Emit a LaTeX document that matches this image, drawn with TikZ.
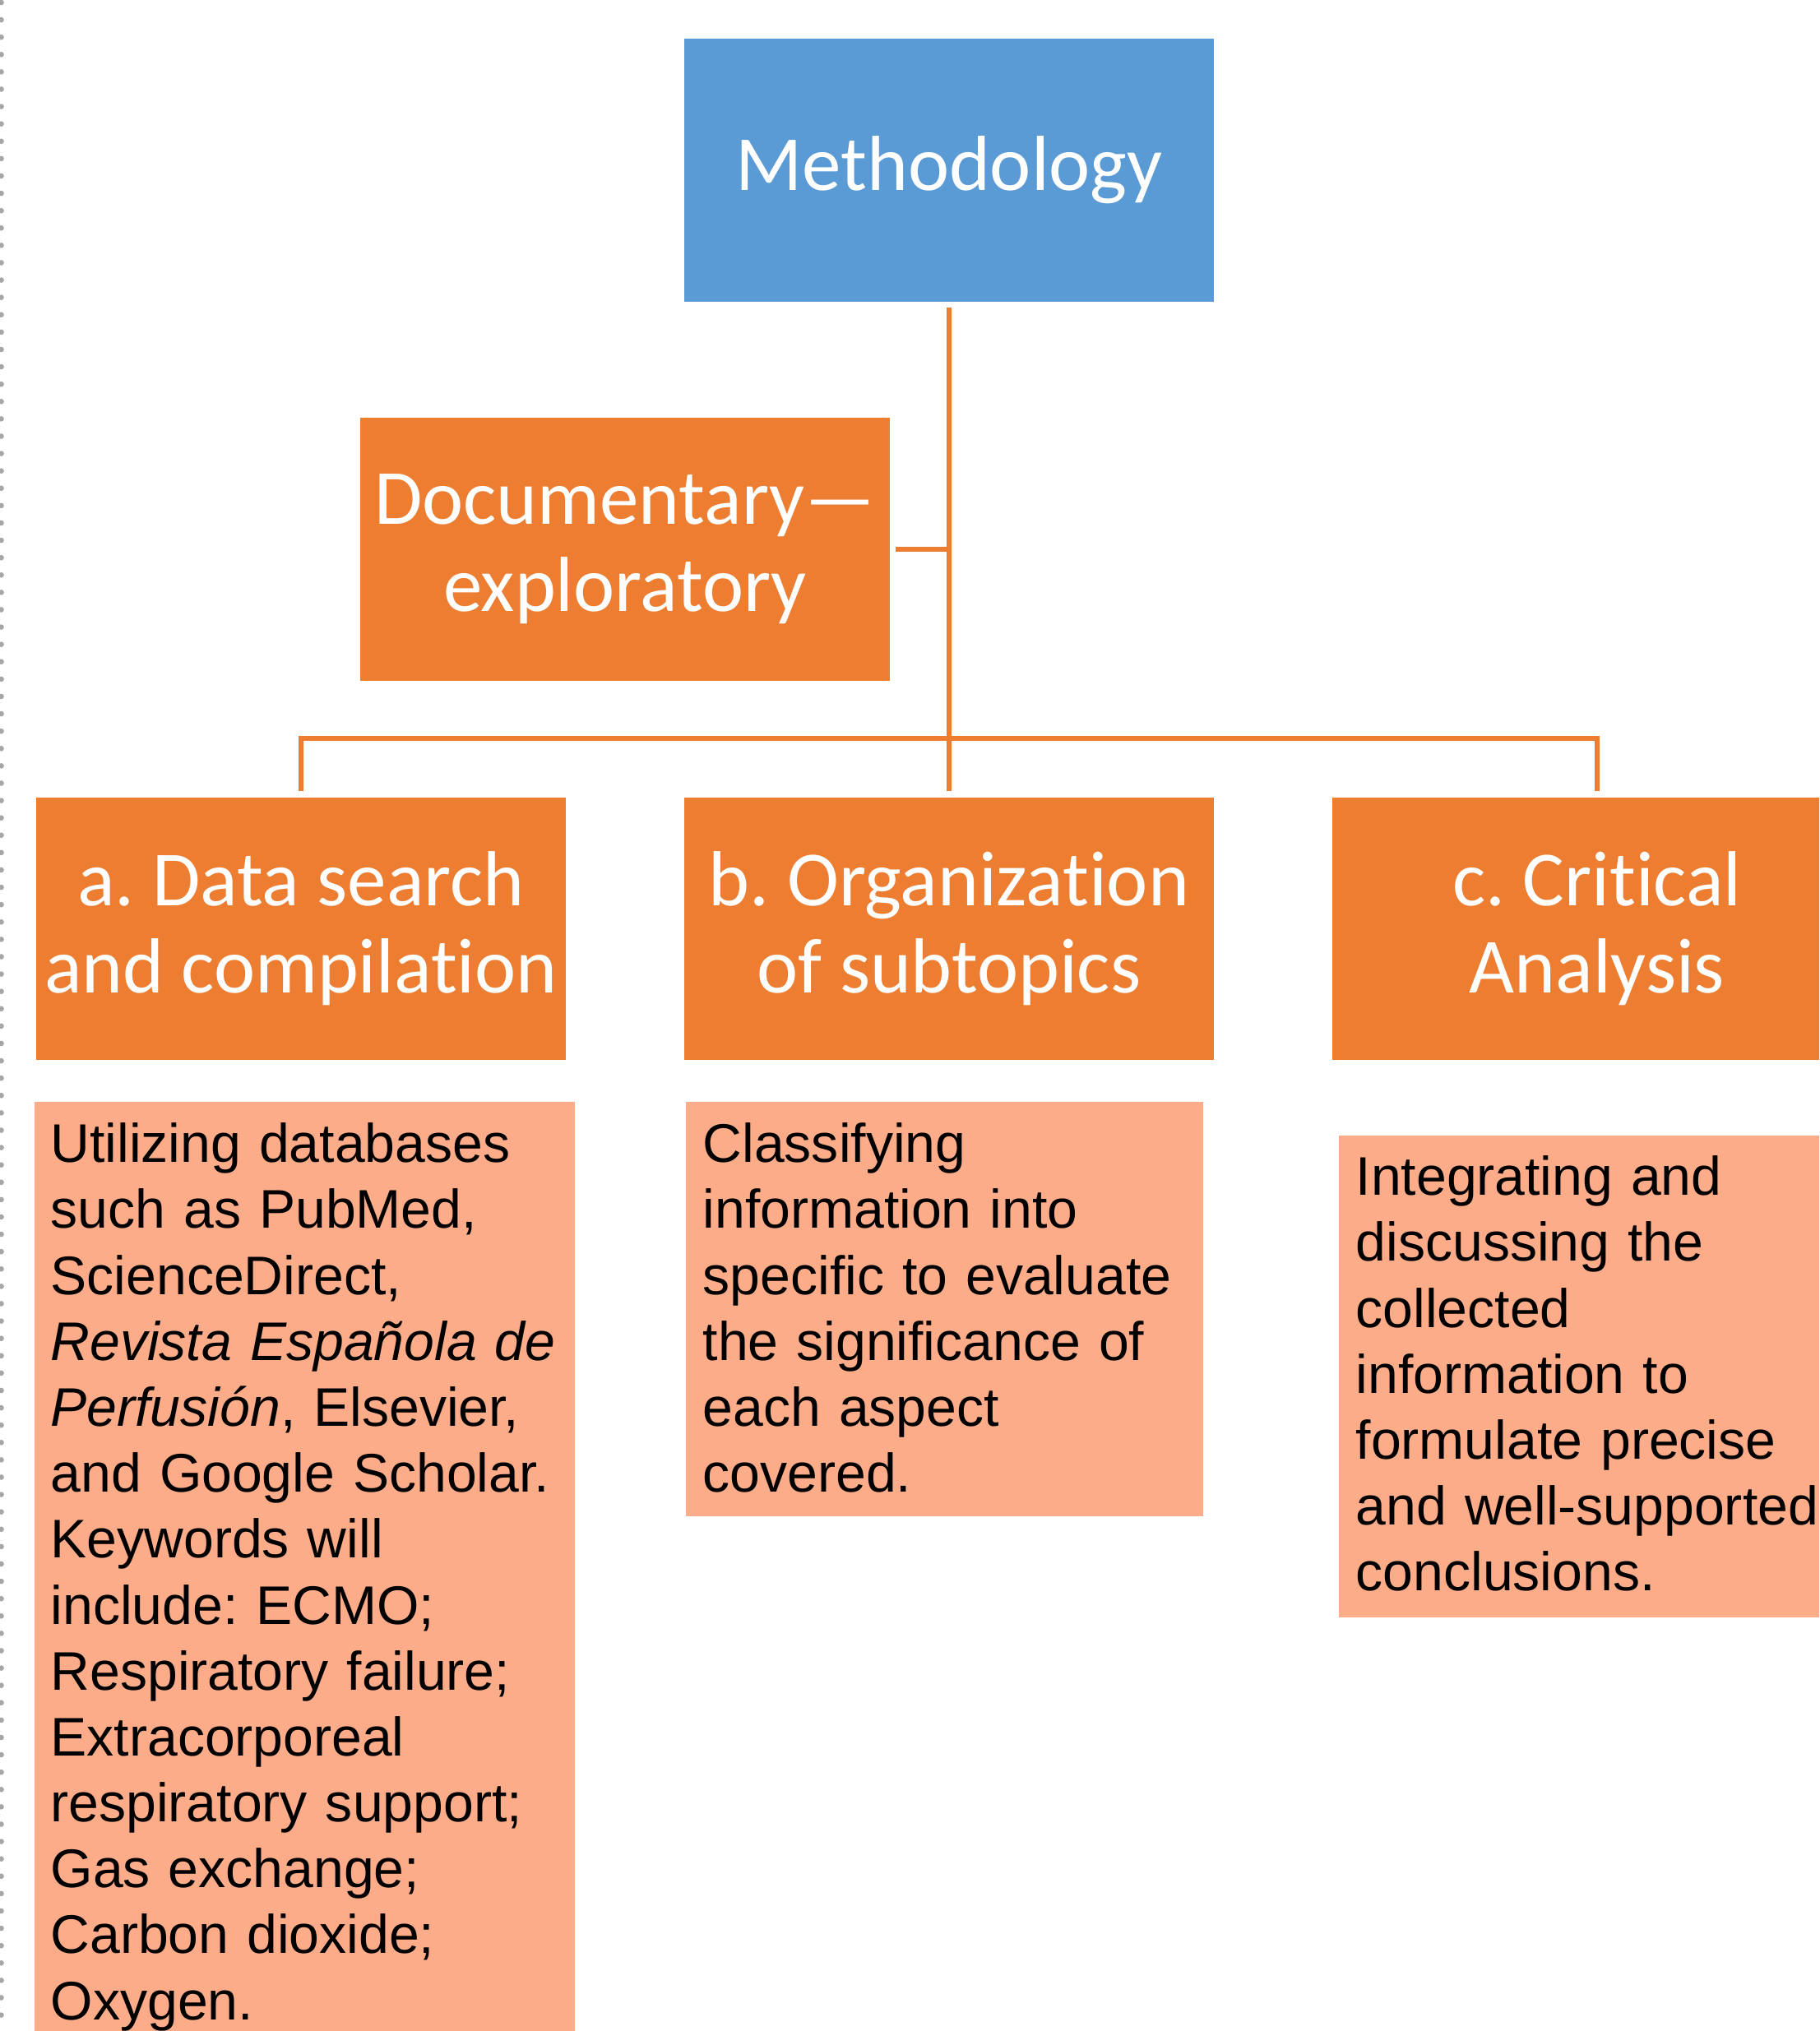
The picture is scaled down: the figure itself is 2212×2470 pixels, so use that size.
\documentclass[tikz,border=0pt]{standalone}
\usepackage{fontspec}
\newfontfamily\headfont[Ligatures=NoCommon]{Carlito}
\newfontfamily\bodyfont{Liberation Sans}
\definecolor{mblue}{HTML}{5B9BD5}
\definecolor{morange}{HTML}{ED7D31}
\definecolor{mlight}{HTML}{FCAC89}
\definecolor{mdot}{HTML}{A6A6A6}
\frenchspacing
\begin{document}
\begin{tikzpicture}[x=0.01cm,y=-0.01cm,
  headbox/.style={fill=#1, text=white, minimum width=6.44cm, minimum height=3.2cm,
    inner sep=0pt, align=center, font=\headfont\fontsize{27pt}{30.2pt}\selectfont},
  descbox/.style={fill=mlight, anchor=north west, inner xsep=0.21cm, inner ysep=0pt,
    align=left, font=\bodyfont\fontsize{18.8pt}{22.8pt}\selectfont},
  conn/.style={draw=morange, line width=1.5pt}]
\useasboundingbox (0,0) rectangle (2212,2470);
\clip (0,0) rectangle (2212,2470);
\draw[mdot, line width=1.9pt, line cap=round, dash pattern=on 0pt off 6pt] (1.5,3) -- (1.5,2470);

\node[headbox=mblue] (meth) at (1154,207) {Methodology};
\node[headbox=morange] (doc) at (760,668) {Documentary—\\exploratory};
\node[headbox=morange, minimum height=3.19cm] (a) at (366,1129.5) {a. Data search\\and compilation};
\node[headbox=morange, minimum height=3.19cm] (b) at (1154,1129.5) {b. Organization\\of subtopics};
\node[headbox=morange, minimum height=3.19cm] (c) at (1942,1129.5) {c. Critical\\Analysis};

\node[descbox, inner xsep=0.2cm, text width=6.17cm] (da) at (41,1339) {\rule{0pt}{0.74cm}Utilizing databases\\
such as PubMed,\\
ScienceDirect,\\
\textit{Revista Española de}\\
\textit{Perfusión}, Elsevier,\\
and Google Scholar.\\
Keywords will\\
include: ECMO;\\
Respiratory failure;\\
Extracorporeal\\
respiratory support;\\
Gas exchange;\\
Carbon dioxide;\\
Oxygen.\rule[-0.6cm]{0pt}{0pt}};

\node[descbox, text width=5.87cm] (db) at (833,1339) {\rule{0pt}{0.74cm}Classifying\\
information into\\
specific to evaluate\\
the significance of\\
each aspect\\
covered.\rule[-0.29cm]{0pt}{0pt}};

\node[descbox, text width=6.0cm] (dc) at (1627,1380) {\rule{0pt}{0.73cm}Integrating and\\
discussing the\\
collected\\
information to\\
formulate precise\\
and well-supported\\
conclusions.\rule[-0.32cm]{0pt}{0pt}};

\coordinate (bus) at (1154,898);
\draw[conn] ([yshift=-0.06cm]meth.south) -- ([yshift=0.07cm]b.north);
\draw[conn] ([yshift=0.07cm]a.north) -- (a.north |- bus) -- (c.north |- bus) -- ([yshift=0.07cm]c.north);
\draw[conn] ([xshift=0.06cm]doc.east) -- (doc.east -| meth.south);
\end{tikzpicture}
\end{document}
